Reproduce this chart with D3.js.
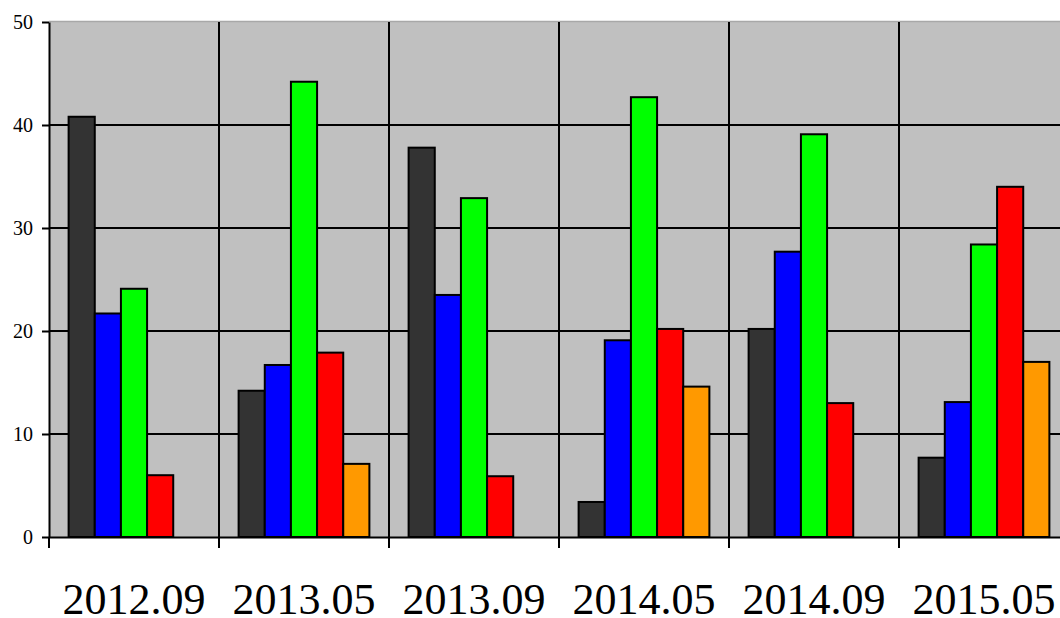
<!DOCTYPE html>
<html><head><meta charset="utf-8">
<script src="https://cdn.jsdelivr.net/npm/d3@7"></script>
<style>html,body{margin:0;padding:0;background:#fff;overflow:hidden}</style>
</head><body>
<svg id="c" width="1060" height="618"></svg>
<script>
const categories = ["2012.09","2013.05","2013.09","2014.05","2014.09","2015.05"];
const seriesNames = ["s1","s2","s3","s4","s5"];
const seriesColors = ["#333333","#0000ff","#00ff00","#ff0000","#ff9900"];
const s1 = [40.8, 14.2, 37.8, 3.4, 20.2, 7.7];
const s2 = [21.7, 16.7, 23.5, 19.1, 27.7, 13.1];
const s3 = [24.1, 44.2, 32.9, 42.7, 39.1, 28.4];
const s4 = [6.0, 17.9, 5.9, 20.2, 13.0, 34.0];
const s5 = [null, 7.1, null, 14.6, null, 17.0];
const yTicks = [0,10,20,30,40,50];
const series = [s1,s2,s3,s4,s5];
const FONT = '"Liberation Serif"';

const svg = d3.select("#c");
const mLeft = 49, mTop = 22, mBottom = 537, plotW = 1020;
const x = d3.scaleBand().domain(categories).range([mLeft, mLeft+plotW]).paddingInner(0).paddingOuter(0);
const y = d3.scaleLinear().domain([0,50]).range([mBottom, mTop]);
const gap = 1.5;
const bw = x.bandwidth() / (series.length + gap);
const xs = d3.scaleBand().domain(seriesNames).range([bw*gap/2, x.bandwidth()-bw*gap/2]).padding(0);

svg.append("rect").attr("x",mLeft).attr("y",mTop).attr("width",plotW).attr("height",mBottom-mTop).attr("fill","#c0c0c0");
svg.append("line").attr("x1",mLeft).attr("x2",mLeft+plotW).attr("y1",mTop-0.5).attr("y2",mTop-0.5).attr("stroke","#a8a8a8").attr("stroke-width",1.5);

// horizontal gridlines
svg.append("g").selectAll("line").data(yTicks.filter(d=>d>0 && d<50)).join("line")
  .attr("x1",mLeft).attr("x2",mLeft+plotW).attr("y1",d=>y(d)).attr("y2",d=>y(d))
  .attr("stroke","#000").attr("stroke-width",2);
// vertical gridlines
svg.append("g").selectAll("line").data(categories.slice(1)).join("line")
  .attr("x1",d=>x(d)).attr("x2",d=>x(d)).attr("y1",mTop).attr("y2",mBottom)
  .attr("stroke","#000").attr("stroke-width",2);

// bars
series.forEach((vals,i)=>{
  svg.append("g").selectAll("rect").data(categories.map((c,j)=>({c,v:vals[j]})).filter(d=>d.v!=null)).join("rect")
    .attr("x",d=>x(d.c)+xs(seriesNames[i]))
    .attr("y",d=>y(d.v))
    .attr("width",xs.bandwidth())
    .attr("height",d=>mBottom-y(d.v))
    .attr("fill",seriesColors[i]).attr("stroke","#000").attr("stroke-width",2);
});

// y axis
const ya = d3.axisLeft(y).tickValues(yTicks).tickSize(7).tickSizeOuter(0).tickFormat(d3.format("d"));
const gy = svg.append("g").attr("transform",`translate(${mLeft},0)`).call(ya);
gy.select(".domain").attr("stroke","#000").attr("stroke-width",2);
gy.selectAll(".tick line").attr("stroke","#000").attr("stroke-width",2);
gy.selectAll(".tick text").style("font-family",FONT).style("font-size","20px").attr("fill","#000").attr("x",-16).attr("dy","0.33em");

// x axis
const xa = d3.axisBottom(x).tickSize(0).tickSizeOuter(0);
const gx = svg.append("g").attr("transform",`translate(0,${mBottom})`).call(xa);
gx.select(".domain").attr("stroke","#000").attr("stroke-width",2);
gx.selectAll(".tick text").style("font-family",FONT).style("font-size","44px").attr("fill","#000").attr("y",77).attr("dy",0);
svg.append("g").selectAll("line").data(categories).join("line")
  .attr("x1",d=>x(d)).attr("x2",d=>x(d)).attr("y1",mBottom).attr("y2",mBottom+11)
  .attr("stroke","#000").attr("stroke-width",2);
</script>
</body></html>
